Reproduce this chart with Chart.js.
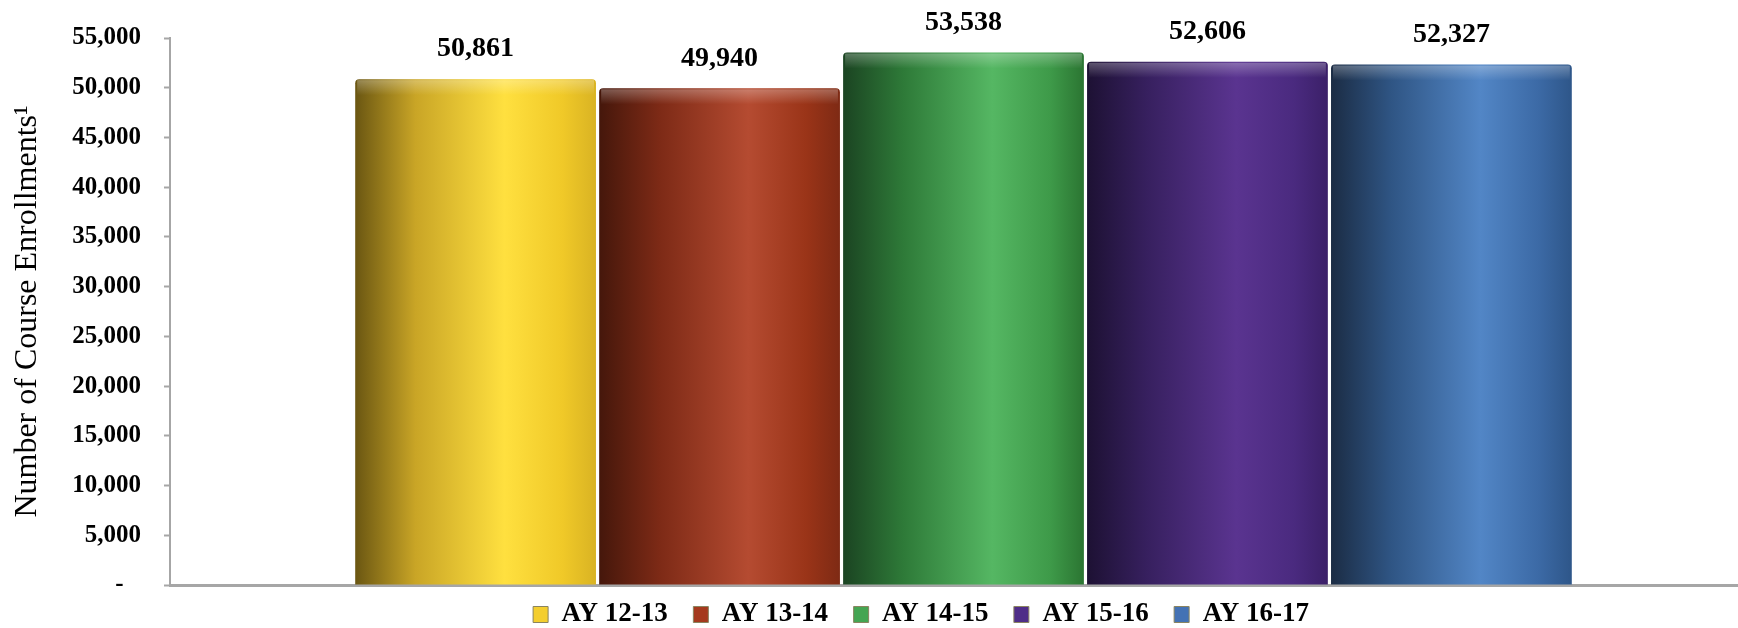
<!DOCTYPE html>
<html>
<head>
<meta charset="utf-8">
<title>Course Enrollments</title>
<script src="https://cdn.jsdelivr.net/npm/chart.js@4"></script>
<style>
  html, body { margin: 0; padding: 0; background: #fff; }
  #wrap { width: 1738px; height: 628px; position: relative; }
</style>
</head>
<body>
<div id="wrap"><canvas id="enrollChart"></canvas></div>
<script>
// academic years, one bar each
const years = ["AY 12-13", "AY 13-14", "AY 14-15", "AY 15-16", "AY 16-17"];
const enrollments = [50861, 49940, 53538, 52606, 52327];

// flat colours (legend) and the left-to-right shading used on the bars
const baseColors = ["#f4ce2e", "#a5391d", "#45a552", "#4f2d88", "#4472b4"];
const shadeStops = [
  ["#6a5612", "#c9a526", "#ffe03f", "#f0c928", "#d9b323"],
  ["#45170b", "#7d2a16", "#b54b31", "#9a3418", "#7e2a14"],
  ["#1b4422", "#2e7a38", "#55b763", "#3e9a49", "#2b7532"],
  ["#1d1133", "#37205f", "#5a3490", "#4a2a7f", "#3b2068"],
  ["#1b2c44", "#2f5584", "#5286c6", "#3c6aa6", "#2e5689"],
];
const stopPositions = [0, 0.25, 0.62, 0.86, 1];

const serif = "'Liberation Serif', 'Times New Roman', serif";

const fmt = (v) => v.toLocaleString("en-US");

// paint each bar with a horizontal gradient so it looks like the 3D original
const shadingPlugin = {
  id: "shading",
  afterLayout(chart) {
    // the original legend sits a bit right of the page centre
    chart.legend.left += 104;
    // and its x axis runs past the right edge of the picture
    const xs = chart.scales.x;
    xs.right += 19;
    xs.width += 19;
    xs.configure();
  },
  beforeDatasetsDraw(chart) {
    const ctx = chart.ctx;
    chart.data.datasets.forEach((ds, i) => {
      const meta = chart.getDatasetMeta(i);
      meta.data.forEach((bar) => {
        const { x, width } = bar.getProps(["x", "width"], true);
        const left = x - width / 2;
        const g = ctx.createLinearGradient(left, 0, left + width, 0);
        shadeStops[i].forEach((c, k) => g.addColorStop(stopPositions[k], c));
        bar.options.backgroundColor = g;
      });
    });
  },
  afterDatasetsDraw(chart) {
    const ctx = chart.ctx;
    ctx.save();
    chart.data.datasets.forEach((ds, i) => {
      const meta = chart.getDatasetMeta(i);
      meta.data.forEach((bar, j) => {
        const { x, y, width } = bar.getProps(["x", "y", "width"], true);
        // soft highlight on the top rim
        const hl = ctx.createLinearGradient(0, y, 0, y + 16);
        hl.addColorStop(0, "rgba(255,255,255,0.30)");
        hl.addColorStop(1, "rgba(255,255,255,0)");
        ctx.fillStyle = hl;
        ctx.fillRect(x - width / 2 + 2, y + 1, width - 4, 16);
        // value label
        ctx.fillStyle = "#000";
        ctx.font = "bold 28px " + serif;
        ctx.textAlign = "center";
        ctx.textBaseline = "middle";
        ctx.fillText(fmt(ds.data[j]), x, y - 30);
      });
    });
    ctx.restore();
  },
};

const datasets = years.map((yr, i) => ({
  label: yr,
  data: [enrollments[i]],
  backgroundColor: baseColors[i],
  borderWidth: 0,
  borderRadius: { topLeft: 4, topRight: 4 },
  borderSkipped: "bottom",
  categoryPercentage: 0.7686,
  barPercentage: 0.987,
}));

new Chart(document.getElementById("enrollChart"), {
  type: "bar",
  data: { labels: [""], datasets },
  plugins: [shadingPlugin],
  options: {
    responsive: true,
    maintainAspectRatio: false,
    animation: false,
    layout: { padding: { top: 32, right: 0, bottom: -10, left: 0 } },
    plugins: {
      tooltip: { enabled: false },
      legend: {
        position: "bottom",
        labels: {
          font: { family: serif, size: 27, weight: "bold" },
          color: "#000",
          boxWidth: 15,
          boxHeight: 16,
          padding: 12,
          generateLabels: (chart) =>
            chart.data.datasets.map((ds, i) => ({
              text: i < years.length - 1 ? ds.label + "  " : ds.label,
              fillStyle: baseColors[i],
              strokeStyle: "#8a8460",
              lineWidth: 1,
              hidden: false,
              datasetIndex: i,
              fontColor: "#000",
            })),
        },
      },
    },
    scales: {
      x: {
        grid: { display: false, drawTicks: false },
        ticks: { display: false },
        border: { display: true, color: "#a6a6a6", width: 3 },
        afterFit: (scale) => { scale.height = 4; },
      },
      y: {
        min: 0,
        max: 55000,
        afterFit: (scale) => { scale.width = 170; },
        ticks: {
          stepSize: 5000,
          color: "#000",
          padding: 23,
          font: { family: serif, size: 25, weight: "bold" },
          callback: (v) => (v === 0 ? "-  \u2009" : fmt(v)),
        },
        grid: {
          drawOnChartArea: false,
          drawTicks: true,
          tickLength: 6,
          tickWidth: 2,
          tickColor: "#a6a6a6",
        },
        border: { display: true, color: "#a6a6a6", width: 2 },
        title: {
          display: true,
          text: "Number of Course Enrollments\u00b9",
          color: "#000",
          font: { family: serif, size: 32, weight: "normal" },
          padding: { top: 8, bottom: 10 },
        },
      },
    },
  },
});
</script>
</body>
</html>
